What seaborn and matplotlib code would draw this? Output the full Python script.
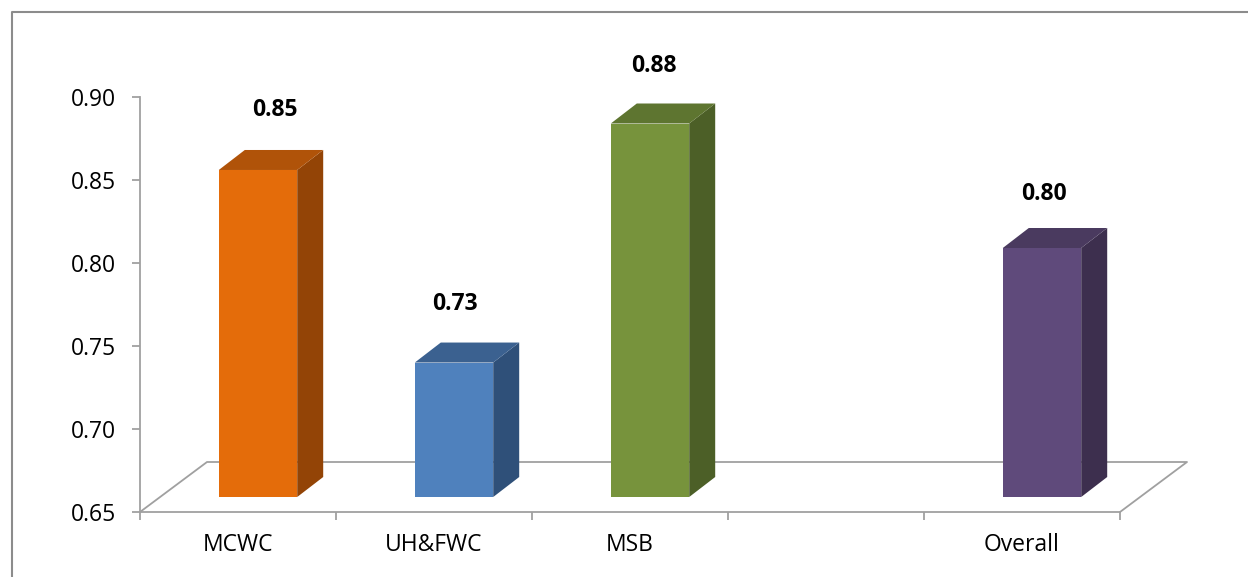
import numpy as np
import pandas as pd
import matplotlib
matplotlib.use("Agg")
import matplotlib.pyplot as plt
import seaborn as sns
from matplotlib.patches import Polygon
from matplotlib.lines import Line2D
from matplotlib.transforms import ScaledTranslation

# ---- data ----
categories = ["MCWC", "UH&FWC", "MSB", "Overall"]
values = [0.847, 0.731, 0.875, 0.800]
value_labels = ["0.85", "0.73", "0.88", "0.80"]
axis_order = ["MCWC", "UH&FWC", "MSB", " ", "Overall"]
y_ticks = [0.65, 0.70, 0.75, 0.80, 0.85, 0.90]
y_tick_labels = ["0.65", "0.70", "0.75", "0.80", "0.85", "0.90"]

# ---- style ----
front_colors = ["#E46C0A", "#4F81BD", "#77933C", "#5F4A7B"]
top_colors = ["#B05309", "#3B6190", "#5E7530", "#4A3A5F"]
side_colors = ["#934406", "#2F5079", "#4C5F27", "#3D2F4E"]
label_dx_px = [17, 1, 4, 2]
label_dy_px = [60, 59, 58, 54]
GRAY = "#A0A0A0"

sns.set_theme(style="white")
plt.rcParams["font.family"] = ["Open Sans", "DejaVu Sans"]

W, H = 1248, 577
fig = plt.figure(figsize=(W / 100, H / 100), dpi=100)
ax = fig.add_axes([140 / W, 65 / H, 980 / W, 415 / H])

df = pd.DataFrame({"cat": categories, "val": values})
sns.barplot(data=df, x="cat", y="val", order=axis_order, hue="cat",
            hue_order=categories, palette=front_colors, width=0.4,
            saturation=1, legend=False, ax=ax, errorbar=None)

base = y_ticks[0]
ax.set_ylim(y_ticks[0], y_ticks[-1])
ax.set_xlim(-0.5, len(axis_order) - 0.5)


def px_to_data(dx, dy):
    inv = ax.transData.inverted()
    p0 = inv.transform((0, 0))
    p1 = inv.transform((dx, dy))
    return p1 - p0


# bar placement inside the 3D floor (shift right/up in pixels)
shift = ax.transData + ScaledTranslation(20 / 100, 15 / 100, fig.dpi_scale_trans)
ddx, ddy = px_to_data(26, 20)

for p in list(ax.patches):
    x0 = p.get_x()
    w = p.get_width()
    v = p.get_height()
    if not np.isfinite(v) or w == 0:
        continue
    cx = x0 + w / 2
    cat = axis_order[int(round(cx))]
    i = categories.index(cat)
    x1 = x0 + w
    p.set_y(base)
    p.set_height(v - base)
    p.set_transform(shift)
    p.set_edgecolor("none")
    p.set_clip_on(False)
    p.set_zorder(3)
    side = Polygon([(x1, base), (x1, v), (x1 + ddx, v + ddy), (x1 + ddx, base + ddy)],
                   closed=True, facecolor=side_colors[i], edgecolor="none",
                   transform=shift, clip_on=False, zorder=3)
    top = Polygon([(x0, v), (x1, v), (x1 + ddx, v + ddy), (x0 + ddx, v + ddy)],
                  closed=True, facecolor=top_colors[i], edgecolor="none",
                  transform=shift, clip_on=False, zorder=3)
    ax.add_patch(side)
    ax.add_patch(top)
    lt = ax.transData + ScaledTranslation((20 + label_dx_px[i]) / 100,
                                          (15 + label_dy_px[i]) / 100,
                                          fig.dpi_scale_trans)
    ax.text(cx, v, value_labels[i], transform=lt, ha="center", va="center",
            fontsize=16.5, fontweight="bold", color="black", zorder=4)

# floor of the 3D plot
fdx, fdy = px_to_data(67, 50)
xl, xr = -0.5, len(axis_order) - 0.5
floor = Line2D([xl, xl + fdx, xr + fdx, xr], [base, base + fdy, base + fdy, base],
               color=GRAY, lw=1.3, clip_on=False, zorder=1)
ax.add_line(floor)

# axes styling
for s in ["top", "right"]:
    ax.spines[s].set_visible(False)
for s in ["left", "bottom"]:
    ax.spines[s].set_color(GRAY)
    ax.spines[s].set_linewidth(1.3)
ax.set_yticks(y_ticks)
ax.set_yticklabels(y_tick_labels)
ax.tick_params(axis="y", which="major", direction="out", length=6, width=1.3,
               color=GRAY, labelsize=16.5, pad=11, left=True, labelcolor="black")
ax.set_xticks(np.arange(-0.5, len(axis_order), 1.0))
ax.set_xticklabels([])
ax.set_xticks(range(len(axis_order)), minor=True)
ax.set_xticklabels(axis_order, minor=True)
ax.tick_params(axis="x", which="major", direction="out", length=6, width=1.3,
               color=GRAY, bottom=True)
ax.tick_params(axis="x", which="minor", length=0, labelsize=16.5, pad=15,
               labelcolor="black")
ax.set_xlabel("")
ax.set_ylabel("")
ax.patch.set_alpha(0)

# outer chart frame
frame = Line2D([11.5 / W, 11.5 / W, 1.01], [-0.01, (H - 11.5) / H, (H - 11.5) / H],
               transform=fig.transFigure, color="#8C8C8C", lw=1.5)
fig.add_artist(frame)

fig.savefig("out.png", dpi=100)
